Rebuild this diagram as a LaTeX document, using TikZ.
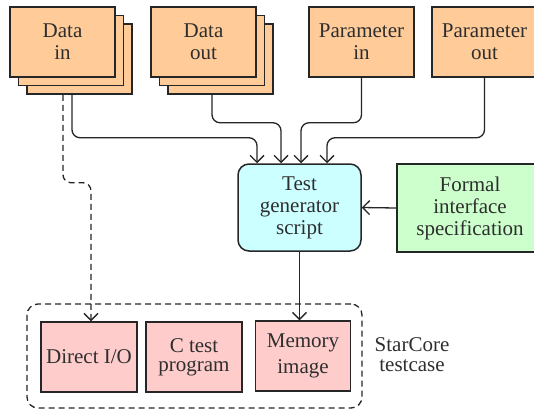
\documentclass[tikz,border=0pt]{standalone}
\usepackage{fontspec}
\setmainfont{Liberation Serif}
\usetikzlibrary{arrows.meta}
\definecolor{peach}{HTML}{FFCC99}
\definecolor{skyc}{HTML}{CCFFFF}
\definecolor{mint}{HTML}{CCFFCC}
\definecolor{rose}{HTML}{FFCCCC}
\definecolor{linec}{HTML}{262626}
\definecolor{txt}{HTML}{2E2E2E}
\newcommand{\lblfont}{\fontsize{21}{22}\selectfont}
\tikzset{
  box/.style={draw=linec, line width=1.5pt, inner sep=0pt, align=center,
              font=\lblfont, text=txt},
  iobox/.style={box, fill=peach, minimum width=105pt, minimum height=70pt},
  partbox/.style={box, fill=rose, minimum height=70pt},
  conn/.style={draw=linec, line width=1.3pt, rounded corners=8pt},
  tip/.style={-{Straight Barb[length=7pt,width=14pt,line width=1.3pt]}},
  dashconn/.style={conn, dash pattern=on 6pt off 4pt}
}
\begin{document}
\begin{tikzpicture}[x=1pt,y=-1pt]
\path[use as bounding box, clip] (0,0) rectangle (534,410);

% stacked data sources
\node[iobox] (din3) at (79.5,59) {};
\node[iobox] (din2) at (71,50.5) {};
\node[iobox] (din) at (62.5,42) {Data\\in};
\node[iobox] (dout3) at (220.5,59) {};
\node[iobox] (dout2) at (212,50.5) {};
\node[iobox] (dout) at (203.5,42) {Data\\out};

% parameters
\node[iobox] (pin) at (361.5,42) {Parameter\\in};
\node[iobox] (pout) at (484.5,42) {Parameter\\out};

% generator and specification
\node[box, fill=skyc, rounded corners=11pt, minimum width=123pt, minimum height=87pt]
  (tg) at (299.5,207.5) {Test\\generator\\script};
\node[box, fill=mint, minimum width=146pt, minimum height=88pt]
  (fis) at (470,208) {Formal\\interface\\specification};

% testcase container and parts
\node[draw=linec, line width=1.3pt, dash pattern=on 6pt off 4pt, rounded corners=11pt,
      minimum width=335pt, minimum height=104pt, inner sep=0pt] (tc) at (194.5,356) {};
\node[partbox, minimum width=96pt] (dio) at (89,357) {Direct I/O};
\node[partbox, minimum width=96pt] (ctp) at (194,357) {C test\\[-3pt]program};
\node[partbox, minimum width=95pt] (mem) at (303,356) {Memory\\[4pt]image};
\node[font=\lblfont, text=txt, align=center, inner sep=0pt] (lbl) at (412,355)
  {StarCore\\[-2pt]testcase};

% connectors into the generator
\draw[conn, tip] ([xshift=-7.5pt]din3.south) -- ++(0,43) -| ([xshift=-42.5pt]tg.north);
\draw[conn, tip] ([xshift=-8.5pt]dout3.south) -- ++(0,28) -| ([xshift=-18.5pt]tg.north);
\draw[conn, tip] (pin.south) -- ++(0,45) -| ([xshift=1.5pt]tg.north);
\draw[conn, tip] (pout.south) -- ++(0,60) -| ([xshift=27.5pt]tg.north);
\draw[conn, tip] (fis.west) -- (tg.east);

% connectors into the testcase
\draw[dashconn, tip] ([xshift=-16.5pt]din3.south) -- ++(0,88) -| ([xshift=2pt]dio.north);
\draw[conn, tip] (tg.south) -- (tg.south |- mem.north);
\end{tikzpicture}
\end{document}
